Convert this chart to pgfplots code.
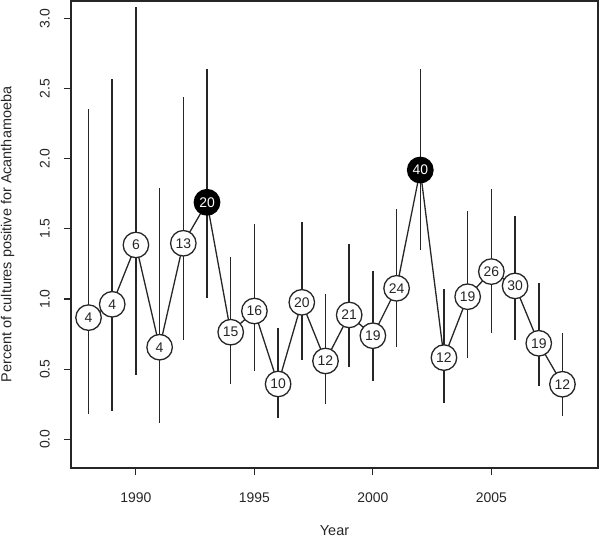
\documentclass[border=0pt]{standalone}
\usepackage{fontspec}
\setmainfont{Liberation Sans}
\usepackage{pgfplots}
\usepackage{pgfplotstable}
\pgfplotsset{compat=1.18}

% year, estimate, upper and lower limit, number of positive cultures
\pgfplotstableread{
year val hi lo n
1988 0.867 2.352 0.178 4
1989 0.962 2.570 0.202 4
1990 1.385 3.083 0.458 6
1991 0.656 1.793 0.118 4
1992 1.397 2.438 0.708 13
1993 1.689 2.641 1.005 20
1994 0.763 1.302 0.392 15
1995 0.914 1.532 0.487 16
1996 0.394 0.791 0.150 10
1997 0.976 1.547 0.565 20
1998 0.558 1.033 0.249 12
1999 0.886 1.390 0.517 21
2000 0.738 1.200 0.416 19
2001 1.076 1.639 0.660 24
2002 1.919 2.637 1.349 40
2003 0.582 1.069 0.257 12
2004 1.016 1.627 0.577 19
2005 1.195 1.784 0.756 26
2006 1.093 1.592 0.708 30
2007 0.684 1.116 0.380 19
2008 0.392 0.756 0.166 12
}\acanth

\begin{document}
\begin{tikzpicture}
\useasboundingbox (-71bp,-69bp) rectangle (529bp,468bp);
\begin{axis}[
    scale only axis,
    width=527bp, height=467bp,
    xmin=1987.26, xmax=2009.5,
    ymin=-0.205, ymax=3.124,
    xtick={1990,1995,2000,2005},
    ytick={0,0.5,...,3},
    xtick pos=left, ytick pos=left,
    tick align=outside,
    major tick length=7bp,
    axis line style={line width=1.1bp, black!85},
    tick style={line width=1.1bp, black!85},
    /pgf/number format/assume math mode=true,
    x tick label style={/pgf/number format/1000 sep={}, inner ysep=18bp},
    y tick label style={/pgf/number format/.cd, fixed, fixed zerofill, precision=1, /tikz/.cd,
        rotate=90, anchor=south, inner ysep=14bp},
    tick label style={font=\fontsize{14}{16}\selectfont, text=black!85},
    xlabel={Year},
    ylabel={Percent of cultures positive for Acanthamoeba},
    label style={font=\fontsize{14.5}{16}\selectfont, text=black!85},
    xlabel style={at={(axis description cs:0.5,0)}, anchor=base, yshift=-67.5bp},
    ylabel style={at={(axis description cs:-0.12,0.5)}, anchor=center},
    clip=false,
]
% confidence intervals
\addplot[only marks, mark=none, black!85,
    error bars/.cd, y dir=both, y explicit, error mark=none,
    error bar style={line width=1.5bp, black!85}]
    table[x=year, y=val,
          y error plus expr=\thisrow{hi}-\thisrow{val},
          y error minus expr=\thisrow{val}-\thisrow{lo}] {\acanth};
% connecting line
\addplot[line width=1.3bp, black!85, mark=none] table[x=year, y=val] {\acanth};
% open circles
\addplot[only marks, mark=none,
    skip coords between index={5}{6},
    skip coords between index={14}{15},
    point meta=explicit symbolic,
    nodes near coords,
    every node near coord/.style={anchor=center, circle, draw=black!85, line width=1.3bp,
        fill=white, minimum size=25.5bp, inner sep=0pt, text=black!85,
        font=\fontsize{14}{14}\selectfont}]
    table[x=year, y=val, meta=n] {\acanth};
% filled circles
\addplot[only marks, mark=none,
    skip coords between index={0}{5},
    skip coords between index={6}{14},
    skip coords between index={15}{21},
    point meta=explicit symbolic,
    nodes near coords,
    every node near coord/.style={anchor=center, circle, draw=black, line width=1.3bp,
        fill=black, minimum size=25.5bp, inner sep=0pt, text=white,
        font=\fontsize{14}{14}\selectfont}]
    table[x=year, y=val, meta=n] {\acanth};
\end{axis}
\end{tikzpicture}
\end{document}
